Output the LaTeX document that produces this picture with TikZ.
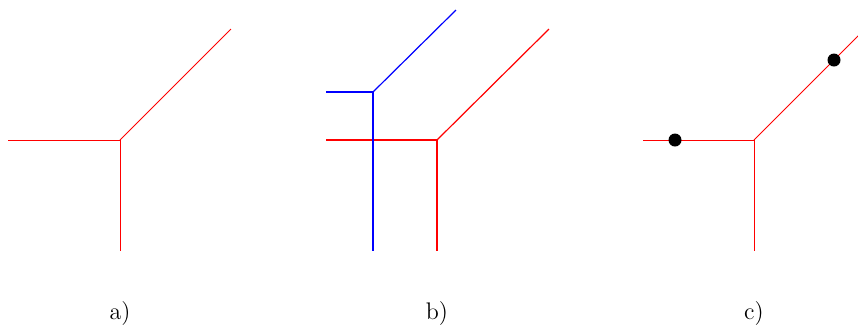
\documentclass[tikz,border=0pt]{standalone}
\begin{document}
\begin{tikzpicture}[x=0.5pt,y=-0.5pt,
  thin red/.style={draw=red,line width=0.4pt},
  thick red/.style={draw=red,line width=0.6pt},
  thick blue/.style={draw=blue,line width=0.6pt},
  lbl/.style={font=\fontsize{12}{14}\selectfont,inner sep=0pt},
  dot/.style={fill=black,circle,inner sep=0pt,minimum size=6.5pt}]
\useasboundingbox (0,0) rectangle (858,329);
\clip (0,0) rectangle (858,329);
% panel a
\coordinate (aC) at (120,140);
\coordinate (aL) at (8,140);
\coordinate (aB) at (120,251);
\coordinate (aT) at (231,29);
\draw[thin red] (aL) -- (aC) -- (aB);
\draw[thin red] (aC) -- (aT);
\node[lbl] (la) at (120,314) {a)};
% panel b
\coordinate (bC) at (437,140);
\coordinate (bL) at (326,140);
\coordinate (bB) at (437,251);
\coordinate (bT) at (549,29);
\coordinate (cC2) at (373,92);
\coordinate (cL2) at (326,92);
\coordinate (cB2) at (373,251);
\coordinate (cT2) at (456,10);
\draw[thick red] (bL) -- (bC) -- (bB);
\draw[thick red] (bC) -- (bT);
\draw[thick blue] (cL2) -- (cC2) -- (cB2);
\draw[thick blue] (cC2) -- (cT2);
\node[lbl] (lb) at (437,314) {b)};
% panel c
\coordinate (cC) at (754,140);
\coordinate (cL) at (643,140);
\coordinate (cB) at (754,251);
\coordinate (cT) at (865,29);
\draw[thin red] (cL) -- (cC) -- (cB);
\draw[thin red] (cC) -- (cT);
\node[dot] (d1) at (675,140) {};
\node[dot] (d2) at (834,60) {};
\node[lbl] (lc) at (754,314) {c)};
\end{tikzpicture}
\end{document}
